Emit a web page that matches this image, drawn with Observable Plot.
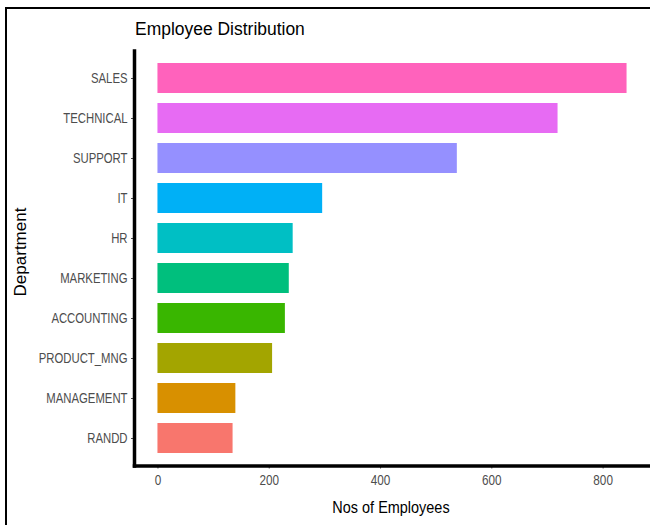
<!DOCTYPE html>
<html><head><meta charset="utf-8">
<script src="https://cdn.jsdelivr.net/npm/d3@7"></script>
<script src="https://cdn.jsdelivr.net/npm/@observablehq/plot@0.6"></script>
<style>
body{margin:0;background:#fff;}
#wrap{position:relative;width:650px;height:525px;overflow:hidden;background:#fff;}
#chart{position:absolute;left:0;top:0;}
#frame{position:absolute;left:5px;top:7px;right:-10px;bottom:-10px;border-top:2.5px solid #000;border-left:2.5px solid #000;pointer-events:none;}
.ttl{position:absolute;font-family:"Liberation Sans",Arial,sans-serif;color:#000;white-space:nowrap;line-height:1;}
#title{left:135px;top:20px;font-size:18px;transform-origin:0 0;transform:scaleX(0.97);}
#xtitle{left:391px;top:499px;font-size:17px;transform:translateX(-50%) scaleX(0.85);}
#ytitle{left:20px;top:252px;font-size:17px;transform:translate(-50%,-50%) rotate(-90deg);}
</style></head>
<body><div id="wrap"><div id="chart"></div><div id="frame"></div>
<div id="title" class="ttl">Employee Distribution</div>
<div id="xtitle" class="ttl">Nos of Employees</div>
<div id="ytitle" class="ttl">Department</div>
</div>
<script>
const departments = ["SALES","TECHNICAL","SUPPORT","IT","HR","MARKETING","ACCOUNTING","PRODUCT_MNG","MANAGEMENT","RANDD"];
const employees = [843,719,538,296,243,236,229,206,140,135];
const colors = ["#FF62BC","#E76BF3","#9590FF","#00B0F6","#00BFC4","#00BF7D","#39B600","#A3A500","#D89000","#F8766D"];
const xTicks = [0,200,400,600,800];
const data = departments.map((d,i)=>({department:d, count:employees[i]}));
const maxV = d3.max(employees);
const pad = maxV*0.05;
const plot = Plot.plot({
  width:650, height:525,
  marginLeft:134, marginRight:0, marginTop:50.5, marginBottom:59.5,
  style:{fontFamily:'"Liberation Sans",Arial,sans-serif', fontSize:"14px", background:"transparent"},
  x:{domain:[-pad, maxV+pad]},
  y:{domain:departments, paddingInner:0.24, paddingOuter:0.22},
  color:{domain:departments, range:colors},
  marks:[
    Plot.barX(data,{x:"count", y:"department", fill:"department"}),
    Plot.axisX({ticks:xTicks, tickSize:3, tickPadding:6, color:"#4d4d4d", label:null, fontSize:14}),
    Plot.axisY({tickSize:3, tickPadding:4, color:"#4d4d4d", label:null, fontSize:14}),
    Plot.frame({anchor:"left", stroke:"#000", strokeWidth:3.5}),
    Plot.frame({anchor:"bottom", stroke:"#000", strokeWidth:3.5})
  ]
});
document.getElementById("chart").appendChild(plot);
// condensed tick labels
plot.querySelectorAll('g[aria-label="y-axis tick label"] text').forEach(t=>{
  t.setAttribute("transform",(t.getAttribute("transform")||"")+" scale(0.81,1)");
});
plot.querySelectorAll('g[aria-label="x-axis tick label"] text').forEach(t=>{
  t.setAttribute("transform",(t.getAttribute("transform")||"")+" scale(0.84,1)");
});
</script>
</body></html>
